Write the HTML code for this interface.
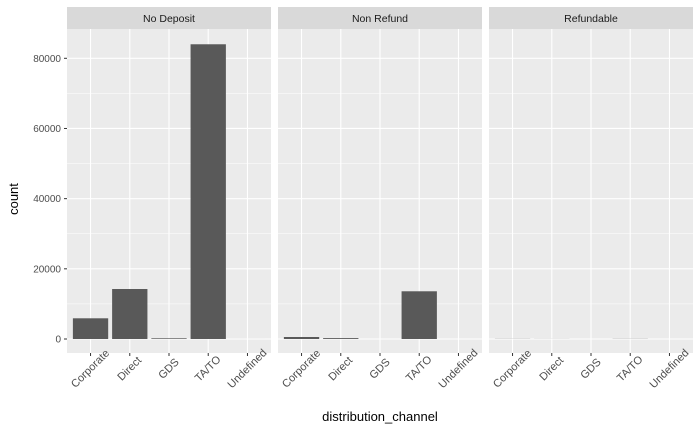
<!DOCTYPE html>
<html><head><meta charset="utf-8"><style>
body{margin:0;background:#fff;}
svg{display:block;font-family:"Liberation Sans",sans-serif;}
</style></head><body>
<svg id="chart" width="700" height="432"></svg>
<script>
const facets=["No Deposit","Non Refund","Refundable"];
const categories=["Corporate","Direct","GDS","TA/TO","Undefined"];
const noDeposit=[5900,14250,190,84000,1];
const nonRefund=[570,250,0,13600,0];
const refundable=[36,20,0,40,0];
const yTicks=[0,20000,40000,60000,80000];
const seriesList=[noDeposit,nonRefund,refundable];

const NS="http://www.w3.org/2000/svg";
const svg=document.getElementById("chart");
function mk(t,a,p){const e=document.createElementNS(NS,t);for(const k in a)e.setAttribute(k,a[k]);(p||svg).appendChild(e);return e;}
const top0=29,bot=353,stripTop=7;
const y0=339,y80=58.3;
function y(v){return y0-(v/80000)*(y0-y80);}
const pw=204,lefts=[67,278,489];
const band=pw/5.2;
function x(i,L){return L+band*(0.6+i);}

facets.forEach((f,fi)=>{
  const L=lefts[fi];
  const g=mk("g",{});
  
  
  const strip=mk("rect",{x:L,y:stripTop,width:pw,height:top0-stripTop,fill:"#d9d9d9"},g);
  
  
  const st=mk("text",{x:L+pw/2,y:22,"text-anchor":"middle","font-size":"10.5",fill:"#1a1a1a"},g);
  st.textContent=f;
  
  
  mk("rect",{x:L,y:top0,width:pw,height:bot-top0,fill:"#ebebeb"},g);
  for(let v=10000;v<=90000;v+=20000){if(y(v)>top0)mk("line",{x1:L,x2:L+pw,y1:y(v),y2:y(v),stroke:"#fff","stroke-width":0.5},g);}
  yTicks.forEach(v=>mk("line",{x1:L,x2:L+pw,y1:y(v),y2:y(v),stroke:"#fff","stroke-width":1.1},g));
  categories.forEach((c,i)=>{
    mk("line",{x1:x(i,L),x2:x(i,L),y1:top0,y2:bot,stroke:"#fff","stroke-width":1.1},g);
  });
  seriesList[fi].forEach((v,i)=>{
    const b=mk("rect",{x:x(i,L)-band*0.45,y:y(v),width:band*0.9,height:Math.max(0,y0-y(v)),fill:"#595959"},g);
    
    
  });
  categories.forEach((c,i)=>{
    const xx=x(i,L);
    mk("line",{x1:xx,x2:xx,y1:bot,y2:bot+3,stroke:"#333","stroke-width":1},g);
    const cx=xx, cy=bot+16;
    const t=mk("text",{x:cx,y:cy,"text-anchor":"middle","dominant-baseline":"central","font-size":"11",fill:"#4d4d4d",transform:`rotate(-45 ${cx} ${cy})`},g);
    t.textContent=c;
    
    
  });
});
yTicks.forEach(v=>{
  mk("line",{x1:64,x2:67,y1:y(v),y2:y(v),stroke:"#333","stroke-width":1});
  const t=mk("text",{x:61,y:y(v)+3.5,"text-anchor":"end","font-size":"10",fill:"#4d4d4d"});
  t.textContent=v;
  
  
});
const yt=mk("text",{x:18,y:199,"text-anchor":"middle","font-size":"13",fill:"#000",transform:"rotate(-90 18 199)"});
yt.textContent="count";


const xt=mk("text",{x:380,y:421,"text-anchor":"middle","font-size":"13",fill:"#000"});
xt.textContent="distribution_channel";


</script>
</body></html>
